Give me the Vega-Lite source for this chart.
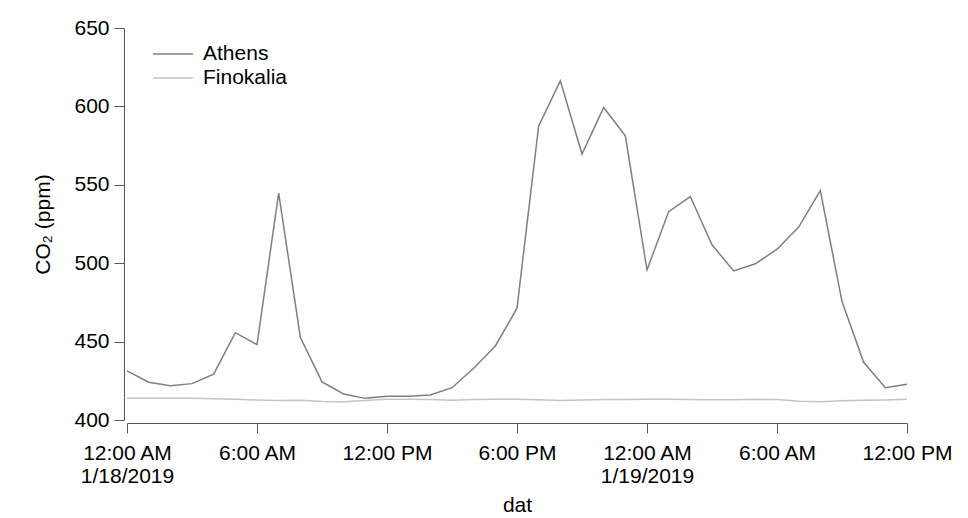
{
  "$schema": "https://vega.github.io/schema/vega-lite/v6.json",
  "autosize": {"type": "none"},
  "padding": {"left": 127, "top": 28, "right": 61, "bottom": 98},
  "width": 780,
  "height": 392,
  "background": "white",
  "config": {
    "view": {"stroke": null},
    "font": "Liberation Sans",
    "axis": {
      "labelFont": "Liberation Sans",
      "titleFont": "Liberation Sans",
      "labelFontSize": 21,
      "titleFontSize": 21,
      "labelColor": "black",
      "titleColor": "black",
      "titleFontWeight": "normal",
      "domainColor": "#555555",
      "tickColor": "#555555",
      "grid": false,
      "tickSize": 10
    }
  },
  "data": {
    "values": [
      {"t": "2019-01-18T00:00:00Z", "site": "Athens", "co2": 431.3},
      {"t": "2019-01-18T01:00:00Z", "site": "Athens", "co2": 424.1},
      {"t": "2019-01-18T02:00:00Z", "site": "Athens", "co2": 421.9},
      {"t": "2019-01-18T03:00:00Z", "site": "Athens", "co2": 423.2},
      {"t": "2019-01-18T04:00:00Z", "site": "Athens", "co2": 429.2},
      {"t": "2019-01-18T05:00:00Z", "site": "Athens", "co2": 455.7},
      {"t": "2019-01-18T06:00:00Z", "site": "Athens", "co2": 448.1},
      {"t": "2019-01-18T07:00:00Z", "site": "Athens", "co2": 544.7},
      {"t": "2019-01-18T08:00:00Z", "site": "Athens", "co2": 452.8},
      {"t": "2019-01-18T09:00:00Z", "site": "Athens", "co2": 424.3},
      {"t": "2019-01-18T10:00:00Z", "site": "Athens", "co2": 416.6},
      {"t": "2019-01-18T11:00:00Z", "site": "Athens", "co2": 413.8},
      {"t": "2019-01-18T12:00:00Z", "site": "Athens", "co2": 415.1},
      {"t": "2019-01-18T13:00:00Z", "site": "Athens", "co2": 415.2},
      {"t": "2019-01-18T14:00:00Z", "site": "Athens", "co2": 416.0},
      {"t": "2019-01-18T15:00:00Z", "site": "Athens", "co2": 420.6},
      {"t": "2019-01-18T16:00:00Z", "site": "Athens", "co2": 433.0},
      {"t": "2019-01-18T17:00:00Z", "site": "Athens", "co2": 447.2},
      {"t": "2019-01-18T18:00:00Z", "site": "Athens", "co2": 471.3},
      {"t": "2019-01-18T19:00:00Z", "site": "Athens", "co2": 587.6},
      {"t": "2019-01-18T20:00:00Z", "site": "Athens", "co2": 616.3},
      {"t": "2019-01-18T21:00:00Z", "site": "Athens", "co2": 569.6},
      {"t": "2019-01-18T22:00:00Z", "site": "Athens", "co2": 599.3},
      {"t": "2019-01-18T23:00:00Z", "site": "Athens", "co2": 581.2},
      {"t": "2019-01-19T00:00:00Z", "site": "Athens", "co2": 495.7},
      {"t": "2019-01-19T01:00:00Z", "site": "Athens", "co2": 532.9},
      {"t": "2019-01-19T02:00:00Z", "site": "Athens", "co2": 542.5},
      {"t": "2019-01-19T03:00:00Z", "site": "Athens", "co2": 511.7},
      {"t": "2019-01-19T04:00:00Z", "site": "Athens", "co2": 495.1},
      {"t": "2019-01-19T05:00:00Z", "site": "Athens", "co2": 499.6},
      {"t": "2019-01-19T06:00:00Z", "site": "Athens", "co2": 508.9},
      {"t": "2019-01-19T07:00:00Z", "site": "Athens", "co2": 523.0},
      {"t": "2019-01-19T08:00:00Z", "site": "Athens", "co2": 546.3},
      {"t": "2019-01-19T09:00:00Z", "site": "Athens", "co2": 475.5},
      {"t": "2019-01-19T10:00:00Z", "site": "Athens", "co2": 436.8},
      {"t": "2019-01-19T11:00:00Z", "site": "Athens", "co2": 420.6},
      {"t": "2019-01-19T12:00:00Z", "site": "Athens", "co2": 422.8},
      {"t": "2019-01-18T00:00:00Z", "site": "Finokalia", "co2": 413.8},
      {"t": "2019-01-18T01:00:00Z", "site": "Finokalia", "co2": 413.8},
      {"t": "2019-01-18T02:00:00Z", "site": "Finokalia", "co2": 413.8},
      {"t": "2019-01-18T03:00:00Z", "site": "Finokalia", "co2": 413.8},
      {"t": "2019-01-18T04:00:00Z", "site": "Finokalia", "co2": 413.5},
      {"t": "2019-01-18T05:00:00Z", "site": "Finokalia", "co2": 413.2},
      {"t": "2019-01-18T06:00:00Z", "site": "Finokalia", "co2": 412.8},
      {"t": "2019-01-18T07:00:00Z", "site": "Finokalia", "co2": 412.4},
      {"t": "2019-01-18T08:00:00Z", "site": "Finokalia", "co2": 412.6},
      {"t": "2019-01-18T09:00:00Z", "site": "Finokalia", "co2": 411.8},
      {"t": "2019-01-18T10:00:00Z", "site": "Finokalia", "co2": 411.6},
      {"t": "2019-01-18T11:00:00Z", "site": "Finokalia", "co2": 412.4},
      {"t": "2019-01-18T12:00:00Z", "site": "Finokalia", "co2": 413.2},
      {"t": "2019-01-18T13:00:00Z", "site": "Finokalia", "co2": 413.2},
      {"t": "2019-01-18T14:00:00Z", "site": "Finokalia", "co2": 413.1},
      {"t": "2019-01-18T15:00:00Z", "site": "Finokalia", "co2": 412.6},
      {"t": "2019-01-18T16:00:00Z", "site": "Finokalia", "co2": 413.0},
      {"t": "2019-01-18T17:00:00Z", "site": "Finokalia", "co2": 413.2},
      {"t": "2019-01-18T18:00:00Z", "site": "Finokalia", "co2": 413.2},
      {"t": "2019-01-18T19:00:00Z", "site": "Finokalia", "co2": 412.9},
      {"t": "2019-01-18T20:00:00Z", "site": "Finokalia", "co2": 412.4},
      {"t": "2019-01-18T21:00:00Z", "site": "Finokalia", "co2": 412.8},
      {"t": "2019-01-18T22:00:00Z", "site": "Finokalia", "co2": 413.0},
      {"t": "2019-01-18T23:00:00Z", "site": "Finokalia", "co2": 413.0},
      {"t": "2019-01-19T00:00:00Z", "site": "Finokalia", "co2": 413.2},
      {"t": "2019-01-19T01:00:00Z", "site": "Finokalia", "co2": 413.3},
      {"t": "2019-01-19T02:00:00Z", "site": "Finokalia", "co2": 413.1},
      {"t": "2019-01-19T03:00:00Z", "site": "Finokalia", "co2": 412.9},
      {"t": "2019-01-19T04:00:00Z", "site": "Finokalia", "co2": 412.9},
      {"t": "2019-01-19T05:00:00Z", "site": "Finokalia", "co2": 413.2},
      {"t": "2019-01-19T06:00:00Z", "site": "Finokalia", "co2": 413.0},
      {"t": "2019-01-19T07:00:00Z", "site": "Finokalia", "co2": 411.9},
      {"t": "2019-01-19T08:00:00Z", "site": "Finokalia", "co2": 411.6},
      {"t": "2019-01-19T09:00:00Z", "site": "Finokalia", "co2": 412.2},
      {"t": "2019-01-19T10:00:00Z", "site": "Finokalia", "co2": 412.6},
      {"t": "2019-01-19T11:00:00Z", "site": "Finokalia", "co2": 412.8},
      {"t": "2019-01-19T12:00:00Z", "site": "Finokalia", "co2": 413.3}
    ]
  },
  "mark": {"type": "line", "strokeWidth": 1.5},
  "encoding": {
    "x": {
      "field": "t",
      "type": "temporal",
      "title": "dat",
      "scale": {
        "type": "utc",
        "domain": [
          {"year": 2019, "month": 1, "date": 18, "hours": 0, "utc": true},
          {"year": 2019, "month": 1, "date": 19, "hours": 12, "utc": true}
        ]
      },
      "axis": {
        "offset": 3,
        "labelPadding": 9,
        "labelLineHeight": 23,
        "labelOverlap": false,
        "labelFlush": false,
        "titlePadding": 8,
        "values": [
          {"year": 2019, "month": 1, "date": 18, "hours": 0, "utc": true},
          {"year": 2019, "month": 1, "date": 18, "hours": 6, "utc": true},
          {"year": 2019, "month": 1, "date": 18, "hours": 12, "utc": true},
          {"year": 2019, "month": 1, "date": 18, "hours": 18, "utc": true},
          {"year": 2019, "month": 1, "date": 19, "hours": 0, "utc": true},
          {"year": 2019, "month": 1, "date": 19, "hours": 6, "utc": true},
          {"year": 2019, "month": 1, "date": 19, "hours": 12, "utc": true}
        ],
        "labelExpr": "utchours(datum.value) == 0 ? [utcFormat(datum.value, '%-I:%M %p'), utcFormat(datum.value, '%-m/%-d/%Y')] : utcFormat(datum.value, '%-I:%M %p')"
      }
    },
    "y": {
      "field": "co2",
      "type": "quantitative",
      "title": "CO₂ (ppm)",
      "scale": {"domain": [400, 650], "nice": false, "zero": false},
      "axis": {
        "offset": 3,
        "values": [400, 450, 500, 550, 600, 650],
        "labelPadding": 5,
        "labelOverlap": false,
        "titlePadding": 20
      }
    },
    "color": {
      "field": "site",
      "type": "nominal",
      "title": null,
      "scale": {"domain": ["Athens", "Finokalia"], "range": ["#7f7f7f", "#c4c4c4"]},
      "legend": {
        "orient": "none",
        "legendX": 35,
        "legendY": 15,
        "symbolType": "M-2,0L2,0",
        "symbolStrokeWidth": 1.5,
        "symbolSize": 400,
        "labelFontSize": 21,
        "labelFont": "Liberation Sans",
        "labelColor": "black",
        "labelOffset": 19,
        "rowPadding": 3
      }
    }
  }
}
